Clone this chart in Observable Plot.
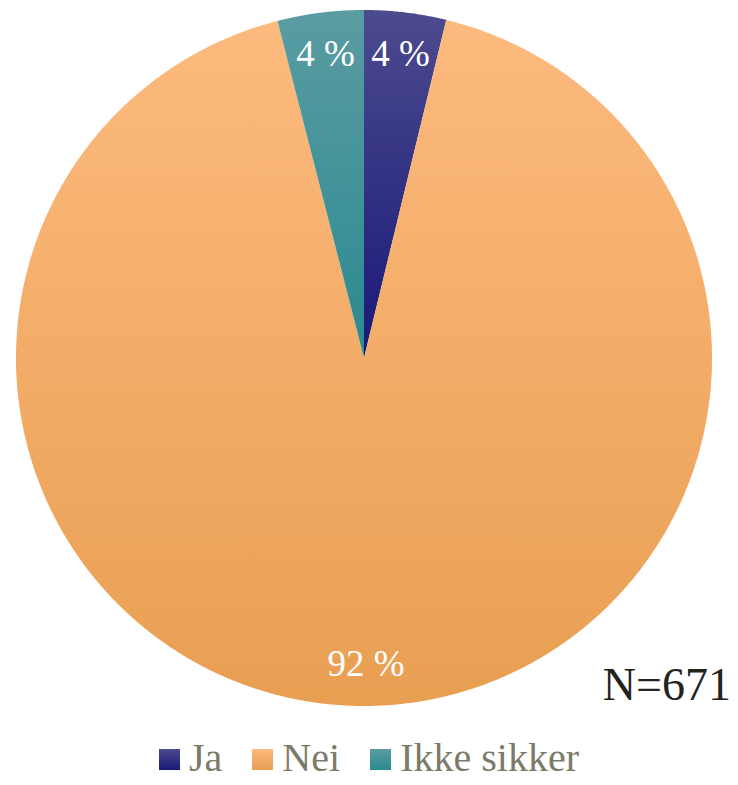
<!DOCTYPE html>
<html><head><meta charset="utf-8">
<script src="https://cdn.jsdelivr.net/npm/d3@7"></script>
<script src="https://cdn.jsdelivr.net/npm/@observablehq/plot@0.6"></script>
<style>
body{margin:0;background:#fff;}
#chart svg{display:block;}
#chart svg text{font-family:"Liberation Serif","Times New Roman",Times,serif !important;}
#legend{display:flex;justify-content:center;align-items:center;height:55px;font-family:"Liberation Serif","Times New Roman",Times,serif;font-size:40px;color:#7b7b67;line-height:1;}
#legend .item{display:flex;align-items:center;margin:0 15px;}
#legend .sw{width:21px;height:21px;margin-right:9px;margin-top:4px;}
</style></head><body><div id="chart"></div><div id="legend"></div>
<script>
const categories = ["Ja", "Nei", "Ikke sikker"];
const values = [3.8, 92.2, 4.0];
const labels = ["4 %", "92 %", "4 %"];
const colorTop = ["#4c4b8e", "#fdba7e", "#5a9ca2"];
const colorBottom = ["#1a1878", "#e89f52", "#2a8a90"];
const note = "N=671";

const arcs = d3.pie().sort(null).value(d => d)(values);
function wedge(p, cat) {
  const pts = [{cat, x: 0, y: 0}];
  const n = Math.max(6, Math.ceil((p.endAngle - p.startAngle) / 0.005));
  for (let k = 0; k <= n; k++) {
    const a = p.startAngle + (p.endAngle - p.startAngle) * k / n;
    pts.push({cat, x: Math.sin(a), y: Math.cos(a)});
  }
  pts.push({cat, x: 0, y: 0});
  return pts;
}
const slices = arcs.map((p, i) => wedge(p, categories[i]));
const full = wedge({startAngle: 0, endAngle: 2 * Math.PI}, "all");
const labelData = arcs.map((p, i) => {
  const a = (p.startAngle + p.endAngle) / 2;
  return {text: labels[i], x: 0.88 * Math.sin(a), y: 0.88 * Math.cos(a)};
});

const NS = "http://www.w3.org/2000/svg";
function defs() {
  const d = document.createElementNS(NS, "defs");
  let html = "";
  categories.forEach((c, i) => {
    html += `<linearGradient id="g${i}" x1="0" y1="0" x2="0" y2="1"><stop offset="0" stop-color="${colorTop[i]}"/><stop offset="1" stop-color="${colorBottom[i]}"/></linearGradient>`;
  });
  html += `<filter id="shadow" x="-10%" y="-10%" width="120%" height="120%"><feDropShadow dx="3" dy="4" stdDeviation="4" flood-color="#000" flood-opacity="0.35"/></filter>`;
  d.innerHTML = html;
  return d;
}

const serif = '"Liberation Serif", "Times New Roman", Times, serif';
const chart = Plot.plot({
  width: 738, height: 730,
  marginLeft: 15.5, marginRight: 26.5, marginTop: 9.5, marginBottom: 24.5,
  x: {domain: [-1, 1], axis: null},
  y: {domain: [-1, 1], axis: null},
  style: {fontFamily: serif, overflow: "visible", background: "#fff"},
  marks: [
    defs,
    Plot.line(full, {x: "x", y: "y", fill: "#fff", stroke: "none", ariaLabel: "shadow"}),
    ...slices.map((s, i) => Plot.line(s, {x: "x", y: "y", fill: `url(#g${i})`, stroke: "none"})),
    Plot.text(labelData, {x: "x", y: "y", text: "text", fill: "#fff", fontSize: 37, fontFamily: serif}),
    Plot.text([note], {frameAnchor: "bottom-right", text: d => d, textAnchor: "end", lineAnchor: "bottom", dx: 19, dy: -6, fontSize: 46, fill: "#23231e", fontFamily: serif})
  ]
});
const sh = chart.querySelector('g[aria-label="shadow"]');
if (sh) sh.setAttribute("filter", "url(#shadow)");
document.getElementById("chart").appendChild(chart);

const legend = document.getElementById("legend");
categories.forEach((c, i) => {
  const it = document.createElement("div");
  it.className = "item";
  const sw = document.createElement("span");
  sw.className = "sw";
  sw.style.background = `linear-gradient(${colorTop[i]}, ${colorBottom[i]})`;
  const t = document.createElement("span");
  t.textContent = c;
  it.appendChild(sw); it.appendChild(t);
  legend.appendChild(it);
});
</script></body></html>
